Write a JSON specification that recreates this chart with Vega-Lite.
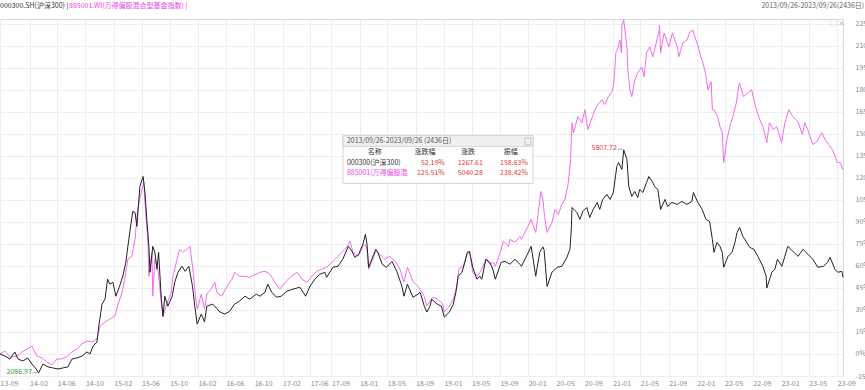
{
  "$schema": "https://vega.github.io/schema/vega-lite/v6.json",
  "width": 843,
  "height": 357,
  "autosize": {"type": "none"},
  "padding": {"left": 0, "top": 19, "right": 22, "bottom": 14},
  "background": "white",
  "config": {
    "font": "Noto Sans CJK SC",
    "view": {"stroke": "#d9d9d9"},
    "axisX": {
      "labelOverlap": false,
      "labelFlush": false,
      "labelAlign": "left",
      "labelFontSize": 7,
      "labelColor": "#8a8a8a",
      "labelPadding": 3,
      "tickCount": 100,
      "ticks": false,
      "domain": false,
      "grid": true,
      "gridColor": "#eeeeee",
      "title": null
    },
    "axisY": {
      "labelOverlap": false,
      "labelAlign": "left",
      "labelFontSize": 7,
      "labelColor": "#8a8a8a",
      "labelPadding": 12,
      "tickCount": 100,
      "ticks": false,
      "domain": false,
      "grid": true,
      "gridColor": "#eeeeee",
      "title": null
    },
    "text": {"fontSize": 7, "baseline": "middle"}
  },
  "datasets": {
    "hs300": [
      {"d": "2013-09-26", "v": 0},
      {"d": "2013-10-17", "v": -1.4},
      {"d": "2013-11-08", "v": -3.4},
      {"d": "2013-11-29", "v": 1.4},
      {"d": "2013-12-13", "v": -3.4},
      {"d": "2014-01-03", "v": -4.8},
      {"d": "2014-01-24", "v": -2.7},
      {"d": "2014-02-11", "v": -6.8},
      {"d": "2014-03-05", "v": -10.9},
      {"d": "2014-03-12", "v": -13.0},
      {"d": "2014-03-31", "v": -6.8},
      {"d": "2014-04-22", "v": -8.8},
      {"d": "2014-05-13", "v": -9.5},
      {"d": "2014-06-04", "v": -10.2},
      {"d": "2014-06-26", "v": -9.5},
      {"d": "2014-07-17", "v": -8.8},
      {"d": "2014-08-04", "v": -3.4},
      {"d": "2014-08-25", "v": -2.7},
      {"d": "2014-09-16", "v": -1.4},
      {"d": "2014-10-08", "v": 1.4},
      {"d": "2014-10-21", "v": 0},
      {"d": "2014-11-03", "v": 5.4},
      {"d": "2014-11-20", "v": 8.2},
      {"d": "2014-11-28", "v": 19.0},
      {"d": "2014-12-12", "v": 34.0},
      {"d": "2014-12-25", "v": 37.4},
      {"d": "2015-01-05", "v": 51.0},
      {"d": "2015-01-15", "v": 47.6},
      {"d": "2015-01-28", "v": 48.9},
      {"d": "2015-02-10", "v": 39.4},
      {"d": "2015-02-26", "v": 46.2},
      {"d": "2015-03-12", "v": 53.0},
      {"d": "2015-03-25", "v": 62.5},
      {"d": "2015-04-07", "v": 78.2},
      {"d": "2015-04-24", "v": 97.2},
      {"d": "2015-05-04", "v": 96.5},
      {"d": "2015-05-12", "v": 87.0},
      {"d": "2015-05-25", "v": 114.2},
      {"d": "2015-06-08", "v": 121.0},
      {"d": "2015-06-16", "v": 110.1},
      {"d": "2015-06-24", "v": 91.8},
      {"d": "2015-07-03", "v": 73.4},
      {"d": "2015-07-08", "v": 55.7},
      {"d": "2015-07-20", "v": 73.4},
      {"d": "2015-07-29", "v": 69.3},
      {"d": "2015-08-07", "v": 57.8},
      {"d": "2015-08-14", "v": 69.3},
      {"d": "2015-08-26", "v": 37.4},
      {"d": "2015-09-02", "v": 25.8},
      {"d": "2015-09-10", "v": 39.4},
      {"d": "2015-09-23", "v": 32.6},
      {"d": "2015-10-12", "v": 39.4},
      {"d": "2015-10-23", "v": 48.9},
      {"d": "2015-11-06", "v": 55.7},
      {"d": "2015-11-23", "v": 59.8},
      {"d": "2015-12-07", "v": 56.4},
      {"d": "2015-12-23", "v": 59.8},
      {"d": "2016-01-08", "v": 46.2},
      {"d": "2016-01-18", "v": 32.6},
      {"d": "2016-01-28", "v": 20.4},
      {"d": "2016-02-15", "v": 27.2},
      {"d": "2016-02-29", "v": 21.8},
      {"d": "2016-03-10", "v": 32.6},
      {"d": "2016-04-05", "v": 34.0},
      {"d": "2016-05-06", "v": 28.6},
      {"d": "2016-05-27", "v": 27.2},
      {"d": "2016-06-17", "v": 29.2},
      {"d": "2016-07-08", "v": 34.0},
      {"d": "2016-07-29", "v": 36.0},
      {"d": "2016-08-22", "v": 39.4},
      {"d": "2016-09-12", "v": 37.4},
      {"d": "2016-10-10", "v": 40.8},
      {"d": "2016-10-26", "v": 39.4},
      {"d": "2016-11-17", "v": 42.1},
      {"d": "2016-11-29", "v": 47.6},
      {"d": "2016-12-16", "v": 42.1},
      {"d": "2017-01-06", "v": 38.7},
      {"d": "2017-01-26", "v": 39.4},
      {"d": "2017-02-20", "v": 42.8},
      {"d": "2017-03-17", "v": 44.2},
      {"d": "2017-04-17", "v": 45.5},
      {"d": "2017-05-12", "v": 39.4},
      {"d": "2017-05-31", "v": 46.2},
      {"d": "2017-06-21", "v": 51.0},
      {"d": "2017-07-13", "v": 54.4},
      {"d": "2017-08-03", "v": 55.7},
      {"d": "2017-08-11", "v": 52.3},
      {"d": "2017-09-07", "v": 59.1},
      {"d": "2017-09-29", "v": 59.8},
      {"d": "2017-10-20", "v": 64.6},
      {"d": "2017-11-13", "v": 73.4},
      {"d": "2017-11-29", "v": 70.0},
      {"d": "2017-12-11", "v": 65.9},
      {"d": "2017-12-28", "v": 68.0},
      {"d": "2018-01-15", "v": 74.8},
      {"d": "2018-01-26", "v": 81.6},
      {"d": "2018-02-02", "v": 74.8},
      {"d": "2018-02-09", "v": 59.1},
      {"d": "2018-03-12", "v": 71.4},
      {"d": "2018-03-21", "v": 69.3},
      {"d": "2018-04-09", "v": 61.2},
      {"d": "2018-04-27", "v": 59.1},
      {"d": "2018-05-21", "v": 63.2},
      {"d": "2018-06-11", "v": 56.4},
      {"d": "2018-07-03", "v": 46.2},
      {"d": "2018-07-12", "v": 39.4},
      {"d": "2018-07-27", "v": 47.6},
      {"d": "2018-08-20", "v": 38.7},
      {"d": "2018-09-11", "v": 40.8},
      {"d": "2018-09-20", "v": 42.1},
      {"d": "2018-10-08", "v": 32.6},
      {"d": "2018-10-19", "v": 28.6},
      {"d": "2018-11-02", "v": 32.6},
      {"d": "2018-11-09", "v": 37.4},
      {"d": "2018-12-03", "v": 34.0},
      {"d": "2018-12-21", "v": 32.6},
      {"d": "2019-01-03", "v": 25.2},
      {"d": "2019-01-25", "v": 28.6},
      {"d": "2019-02-11", "v": 34.0},
      {"d": "2019-02-22", "v": 42.1},
      {"d": "2019-03-04", "v": 53.0},
      {"d": "2019-03-20", "v": 55.7},
      {"d": "2019-04-02", "v": 62.5},
      {"d": "2019-04-12", "v": 69.3},
      {"d": "2019-04-22", "v": 70.0},
      {"d": "2019-05-06", "v": 59.1},
      {"d": "2019-05-24", "v": 51.0},
      {"d": "2019-06-06", "v": 53.0},
      {"d": "2019-06-14", "v": 51.0},
      {"d": "2019-07-02", "v": 64.6},
      {"d": "2019-07-19", "v": 62.5},
      {"d": "2019-08-01", "v": 57.8},
      {"d": "2019-08-12", "v": 51.0},
      {"d": "2019-09-06", "v": 62.5},
      {"d": "2019-09-23", "v": 63.2},
      {"d": "2019-10-14", "v": 61.2},
      {"d": "2019-11-05", "v": 64.6},
      {"d": "2019-11-26", "v": 61.2},
      {"d": "2019-12-03", "v": 59.8},
      {"d": "2019-12-31", "v": 68.7},
      {"d": "2020-01-14", "v": 73.4},
      {"d": "2020-02-03", "v": 53.0},
      {"d": "2020-02-20", "v": 69.3},
      {"d": "2020-03-05", "v": 73.0},
      {"d": "2020-03-10", "v": 71.0},
      {"d": "2020-03-16", "v": 59.8},
      {"d": "2020-03-23", "v": 46.0},
      {"d": "2020-04-13", "v": 55.7},
      {"d": "2020-05-06", "v": 59.1},
      {"d": "2020-05-26", "v": 59.8},
      {"d": "2020-06-17", "v": 65.9},
      {"d": "2020-06-30", "v": 71.4},
      {"d": "2020-07-06", "v": 85.0},
      {"d": "2020-07-09", "v": 99.9},
      {"d": "2020-07-30", "v": 96.5},
      {"d": "2020-08-12", "v": 91.8},
      {"d": "2020-08-25", "v": 97.2},
      {"d": "2020-09-11", "v": 99.9},
      {"d": "2020-09-24", "v": 93.1},
      {"d": "2020-10-09", "v": 98.6},
      {"d": "2020-10-26", "v": 103.3},
      {"d": "2020-11-06", "v": 98.6},
      {"d": "2020-11-19", "v": 105.4},
      {"d": "2020-12-07", "v": 108.8},
      {"d": "2020-12-21", "v": 105.4},
      {"d": "2021-01-04", "v": 110.1},
      {"d": "2021-01-19", "v": 127.8},
      {"d": "2021-01-27", "v": 130.5},
      {"d": "2021-02-10", "v": 125.8},
      {"d": "2021-02-18", "v": 139.1},
      {"d": "2021-03-04", "v": 132.6},
      {"d": "2021-03-12", "v": 114.2},
      {"d": "2021-03-25", "v": 107.4},
      {"d": "2021-04-07", "v": 110.8},
      {"d": "2021-04-20", "v": 106.7},
      {"d": "2021-04-28", "v": 112.2},
      {"d": "2021-05-12", "v": 110.1},
      {"d": "2021-05-28", "v": 116.9},
      {"d": "2021-06-07", "v": 121.0},
      {"d": "2021-06-24", "v": 116.9},
      {"d": "2021-07-02", "v": 114.2},
      {"d": "2021-07-16", "v": 112.2},
      {"d": "2021-07-28", "v": 98.6},
      {"d": "2021-08-16", "v": 105.4},
      {"d": "2021-08-27", "v": 100.6},
      {"d": "2021-09-15", "v": 103.3},
      {"d": "2021-10-08", "v": 102.0},
      {"d": "2021-10-28", "v": 104.0},
      {"d": "2021-11-19", "v": 102.0},
      {"d": "2021-12-10", "v": 104.0},
      {"d": "2021-12-17", "v": 110.1},
      {"d": "2022-01-05", "v": 103.3},
      {"d": "2022-01-24", "v": 98.6},
      {"d": "2022-02-09", "v": 91.8},
      {"d": "2022-02-25", "v": 90.4},
      {"d": "2022-03-09", "v": 78.2},
      {"d": "2022-03-16", "v": 69.3},
      {"d": "2022-03-29", "v": 76.1},
      {"d": "2022-04-11", "v": 73.4},
      {"d": "2022-04-21", "v": 69.3},
      {"d": "2022-04-27", "v": 59.1},
      {"d": "2022-05-16", "v": 66.6},
      {"d": "2022-06-02", "v": 69.3},
      {"d": "2022-06-15", "v": 76.1},
      {"d": "2022-06-24", "v": 82.9},
      {"d": "2022-07-05", "v": 86.3},
      {"d": "2022-07-19", "v": 80.2},
      {"d": "2022-08-05", "v": 76.1},
      {"d": "2022-08-18", "v": 72.7},
      {"d": "2022-09-05", "v": 71.4},
      {"d": "2022-09-22", "v": 66.6},
      {"d": "2022-10-14", "v": 59.8},
      {"d": "2022-10-28", "v": 53.0},
      {"d": "2022-10-31", "v": 45.0},
      {"d": "2022-11-22", "v": 55.7},
      {"d": "2022-12-05", "v": 57.8},
      {"d": "2022-12-16", "v": 64.6},
      {"d": "2023-01-04", "v": 59.8},
      {"d": "2023-01-17", "v": 66.6},
      {"d": "2023-01-30", "v": 73.4},
      {"d": "2023-02-21", "v": 70.0},
      {"d": "2023-03-15", "v": 66.6},
      {"d": "2023-04-06", "v": 71.4},
      {"d": "2023-04-27", "v": 68.0},
      {"d": "2023-05-18", "v": 64.6},
      {"d": "2023-06-09", "v": 59.1},
      {"d": "2023-07-03", "v": 59.8},
      {"d": "2023-07-21", "v": 62.5},
      {"d": "2023-08-01", "v": 65.9},
      {"d": "2023-08-22", "v": 57.8},
      {"d": "2023-09-04", "v": 55.7},
      {"d": "2023-09-21", "v": 56.4},
      {"d": "2023-09-26", "v": 52.19}
    ],
    "fund": [
      {"d": "2013-09-26", "v": 0},
      {"d": "2013-10-17", "v": 2.0},
      {"d": "2013-11-08", "v": -2.0},
      {"d": "2013-12-09", "v": -1.4},
      {"d": "2013-12-30", "v": 1.4},
      {"d": "2014-01-21", "v": 3.4},
      {"d": "2014-02-11", "v": 5.4},
      {"d": "2014-03-05", "v": -1.4},
      {"d": "2014-03-27", "v": -2.7},
      {"d": "2014-04-17", "v": -5.4},
      {"d": "2014-05-09", "v": -7.5},
      {"d": "2014-05-30", "v": -3.4},
      {"d": "2014-06-20", "v": -3.4},
      {"d": "2014-07-11", "v": -2.0},
      {"d": "2014-08-04", "v": 1.4},
      {"d": "2014-08-25", "v": 3.4},
      {"d": "2014-09-16", "v": 6.8},
      {"d": "2014-10-08", "v": 8.8},
      {"d": "2014-10-29", "v": 8.2},
      {"d": "2014-11-20", "v": 10.2},
      {"d": "2014-12-03", "v": 19.0},
      {"d": "2014-12-25", "v": 21.8},
      {"d": "2015-01-15", "v": 23.8},
      {"d": "2015-02-06", "v": 25.8},
      {"d": "2015-02-17", "v": 32.6},
      {"d": "2015-03-09", "v": 42.1},
      {"d": "2015-03-20", "v": 51.0},
      {"d": "2015-04-03", "v": 64.6},
      {"d": "2015-04-20", "v": 66.6},
      {"d": "2015-05-04", "v": 78.2},
      {"d": "2015-05-15", "v": 98.6},
      {"d": "2015-06-03", "v": 112.2},
      {"d": "2015-06-11", "v": 116.9},
      {"d": "2015-06-19", "v": 96.5},
      {"d": "2015-06-29", "v": 76.1},
      {"d": "2015-07-03", "v": 53.0},
      {"d": "2015-07-16", "v": 69.3},
      {"d": "2015-07-20", "v": 39.4},
      {"d": "2015-07-29", "v": 64.6},
      {"d": "2015-08-11", "v": 57.8},
      {"d": "2015-08-26", "v": 35.3},
      {"d": "2015-09-02", "v": 25.2},
      {"d": "2015-09-15", "v": 32.6},
      {"d": "2015-10-08", "v": 42.1},
      {"d": "2015-10-15", "v": 53.0},
      {"d": "2015-11-02", "v": 64.6},
      {"d": "2015-11-13", "v": 71.4},
      {"d": "2015-11-26", "v": 69.3},
      {"d": "2015-12-15", "v": 71.4},
      {"d": "2015-12-28", "v": 73.4},
      {"d": "2016-01-11", "v": 55.7},
      {"d": "2016-01-22", "v": 37.4},
      {"d": "2016-01-29", "v": 30.6},
      {"d": "2016-02-15", "v": 40.8},
      {"d": "2016-02-29", "v": 30.6},
      {"d": "2016-03-10", "v": 40.8},
      {"d": "2016-03-28", "v": 44.2},
      {"d": "2016-04-14", "v": 48.9},
      {"d": "2016-04-22", "v": 42.1},
      {"d": "2016-05-13", "v": 39.4},
      {"d": "2016-06-06", "v": 46.2},
      {"d": "2016-06-27", "v": 51.0},
      {"d": "2016-07-08", "v": 55.7},
      {"d": "2016-07-29", "v": 53.0},
      {"d": "2016-08-22", "v": 53.0},
      {"d": "2016-09-12", "v": 52.3},
      {"d": "2016-10-10", "v": 54.4},
      {"d": "2016-10-26", "v": 55.7},
      {"d": "2016-11-17", "v": 56.4},
      {"d": "2016-12-08", "v": 54.4},
      {"d": "2016-12-30", "v": 48.9},
      {"d": "2017-01-20", "v": 44.2},
      {"d": "2017-02-13", "v": 48.9},
      {"d": "2017-03-06", "v": 52.3},
      {"d": "2017-04-05", "v": 55.7},
      {"d": "2017-04-26", "v": 51.0},
      {"d": "2017-05-18", "v": 48.9},
      {"d": "2017-06-08", "v": 53.0},
      {"d": "2017-06-30", "v": 56.4},
      {"d": "2017-07-21", "v": 57.8},
      {"d": "2017-08-11", "v": 59.1},
      {"d": "2017-09-04", "v": 62.5},
      {"d": "2017-09-25", "v": 65.9},
      {"d": "2017-10-16", "v": 69.3},
      {"d": "2017-11-07", "v": 72.7},
      {"d": "2017-11-20", "v": 76.8},
      {"d": "2017-12-04", "v": 69.3},
      {"d": "2017-12-25", "v": 66.6},
      {"d": "2018-01-15", "v": 73.4},
      {"d": "2018-01-26", "v": 74.8},
      {"d": "2018-02-02", "v": 71.4},
      {"d": "2018-02-09", "v": 57.8},
      {"d": "2018-03-12", "v": 70.0},
      {"d": "2018-03-29", "v": 68.0},
      {"d": "2018-04-20", "v": 64.6},
      {"d": "2018-05-11", "v": 66.6},
      {"d": "2018-06-04", "v": 63.2},
      {"d": "2018-06-25", "v": 57.8},
      {"d": "2018-07-12", "v": 48.9},
      {"d": "2018-07-27", "v": 59.1},
      {"d": "2018-08-20", "v": 49.6},
      {"d": "2018-09-11", "v": 46.2},
      {"d": "2018-10-08", "v": 39.4},
      {"d": "2018-10-19", "v": 32.6},
      {"d": "2018-11-02", "v": 36.0},
      {"d": "2018-11-13", "v": 38.7},
      {"d": "2018-12-06", "v": 37.4},
      {"d": "2018-12-27", "v": 34.0},
      {"d": "2019-01-03", "v": 28.6},
      {"d": "2019-01-25", "v": 32.6},
      {"d": "2019-02-11", "v": 37.4},
      {"d": "2019-02-26", "v": 46.2},
      {"d": "2019-03-07", "v": 57.8},
      {"d": "2019-03-25", "v": 59.8},
      {"d": "2019-04-08", "v": 66.6},
      {"d": "2019-04-22", "v": 70.0},
      {"d": "2019-05-06", "v": 55.7},
      {"d": "2019-05-24", "v": 53.0},
      {"d": "2019-06-06", "v": 55.7},
      {"d": "2019-06-14", "v": 57.8},
      {"d": "2019-07-02", "v": 64.6},
      {"d": "2019-07-19", "v": 61.2},
      {"d": "2019-08-01", "v": 62.5},
      {"d": "2019-08-12", "v": 59.8},
      {"d": "2019-09-02", "v": 69.3},
      {"d": "2019-09-16", "v": 76.8},
      {"d": "2019-10-08", "v": 73.4},
      {"d": "2019-10-14", "v": 78.2},
      {"d": "2019-11-05", "v": 76.1},
      {"d": "2019-11-26", "v": 80.2},
      {"d": "2019-12-03", "v": 78.2},
      {"d": "2019-12-31", "v": 87.0},
      {"d": "2020-01-14", "v": 91.8},
      {"d": "2020-02-03", "v": 82.9},
      {"d": "2020-02-14", "v": 96.5},
      {"d": "2020-02-25", "v": 110.8},
      {"d": "2020-03-05", "v": 105.4},
      {"d": "2020-03-12", "v": 93.8},
      {"d": "2020-03-23", "v": 82.9},
      {"d": "2020-04-13", "v": 89.7},
      {"d": "2020-04-27", "v": 98.6},
      {"d": "2020-05-11", "v": 95.2},
      {"d": "2020-05-26", "v": 102.0},
      {"d": "2020-06-08", "v": 105.4},
      {"d": "2020-06-22", "v": 115.6},
      {"d": "2020-07-03", "v": 132.6},
      {"d": "2020-07-09", "v": 157.7},
      {"d": "2020-07-16", "v": 150.9},
      {"d": "2020-08-03", "v": 161.8},
      {"d": "2020-08-21", "v": 157.7},
      {"d": "2020-09-03", "v": 166.6},
      {"d": "2020-09-15", "v": 153.0},
      {"d": "2020-10-09", "v": 163.2},
      {"d": "2020-10-16", "v": 166.6},
      {"d": "2020-10-29", "v": 170.0},
      {"d": "2020-11-16", "v": 173.3},
      {"d": "2020-11-27", "v": 170.0},
      {"d": "2020-12-11", "v": 174.7},
      {"d": "2020-12-29", "v": 178.8},
      {"d": "2021-01-06", "v": 184.9},
      {"d": "2021-01-15", "v": 205.3},
      {"d": "2021-01-22", "v": 207.3},
      {"d": "2021-02-01", "v": 214.1},
      {"d": "2021-02-08", "v": 205.3},
      {"d": "2021-02-10", "v": 223.8},
      {"d": "2021-02-18", "v": 227.7},
      {"d": "2021-03-04", "v": 209.4},
      {"d": "2021-03-08", "v": 193.7},
      {"d": "2021-03-17", "v": 180.1},
      {"d": "2021-03-25", "v": 175.4},
      {"d": "2021-04-07", "v": 186.9},
      {"d": "2021-04-20", "v": 191.7},
      {"d": "2021-05-07", "v": 195.8},
      {"d": "2021-05-17", "v": 189.0},
      {"d": "2021-05-28", "v": 205.3},
      {"d": "2021-06-11", "v": 209.4},
      {"d": "2021-06-24", "v": 202.6},
      {"d": "2021-07-12", "v": 214.1},
      {"d": "2021-07-22", "v": 220.9},
      {"d": "2021-07-23", "v": 224.3},
      {"d": "2021-07-28", "v": 205.3},
      {"d": "2021-08-12", "v": 218.9},
      {"d": "2021-09-02", "v": 209.4},
      {"d": "2021-09-17", "v": 218.9},
      {"d": "2021-10-08", "v": 209.4},
      {"d": "2021-10-15", "v": 202.6},
      {"d": "2021-11-01", "v": 212.1},
      {"d": "2021-11-19", "v": 214.1},
      {"d": "2021-12-02", "v": 219.6},
      {"d": "2021-12-15", "v": 220.9},
      {"d": "2021-12-23", "v": 216.2},
      {"d": "2022-01-05", "v": 210.7},
      {"d": "2022-01-18", "v": 202.6},
      {"d": "2022-01-27", "v": 198.5},
      {"d": "2022-02-07", "v": 191.7},
      {"d": "2022-02-18", "v": 180.1},
      {"d": "2022-03-04", "v": 185.6},
      {"d": "2022-03-09", "v": 166.6},
      {"d": "2022-03-16", "v": 166.6},
      {"d": "2022-04-01", "v": 161.8},
      {"d": "2022-04-11", "v": 155.0},
      {"d": "2022-04-21", "v": 150.9},
      {"d": "2022-04-27", "v": 130.5},
      {"d": "2022-05-11", "v": 146.2},
      {"d": "2022-05-24", "v": 155.0},
      {"d": "2022-06-06", "v": 161.8},
      {"d": "2022-06-21", "v": 171.3},
      {"d": "2022-07-01", "v": 182.2},
      {"d": "2022-07-05", "v": 184.9},
      {"d": "2022-07-22", "v": 175.4},
      {"d": "2022-08-10", "v": 178.1},
      {"d": "2022-08-26", "v": 180.1},
      {"d": "2022-09-05", "v": 173.3},
      {"d": "2022-09-16", "v": 166.6},
      {"d": "2022-09-30", "v": 159.8},
      {"d": "2022-10-14", "v": 155.0},
      {"d": "2022-10-31", "v": 144.1},
      {"d": "2022-11-11", "v": 157.7},
      {"d": "2022-11-28", "v": 153.0},
      {"d": "2022-12-13", "v": 155.0},
      {"d": "2023-01-03", "v": 144.1},
      {"d": "2023-01-17", "v": 157.7},
      {"d": "2023-02-03", "v": 166.6},
      {"d": "2023-02-21", "v": 161.8},
      {"d": "2023-03-15", "v": 158.4},
      {"d": "2023-04-03", "v": 149.6},
      {"d": "2023-04-14", "v": 157.7},
      {"d": "2023-04-26", "v": 153.0},
      {"d": "2023-05-18", "v": 142.8},
      {"d": "2023-06-05", "v": 144.8},
      {"d": "2023-06-26", "v": 150.9},
      {"d": "2023-07-10", "v": 146.2},
      {"d": "2023-07-26", "v": 142.8},
      {"d": "2023-08-11", "v": 139.4},
      {"d": "2023-08-25", "v": 133.9},
      {"d": "2023-09-01", "v": 130.5},
      {"d": "2023-09-15", "v": 130.5},
      {"d": "2023-09-26", "v": 125.51}
    ]
  },
  "layer": [
    {
      "data": {"name": "fund"},
      "mark": {"type": "line", "strokeWidth": 1},
      "encoding": {
        "x": {
          "field": "d",
          "type": "temporal",
          "scale": {
            "type": "utc",
            "domain": [
              {"year": 2013, "month": 9, "date": 26, "utc": true},
              {"year": 2023, "month": 9, "date": 26, "utc": true}
            ]
          },
          "axis": {
            "format": "%y-%m",
            "tickCount": 100,
            "values": [
              {"year": 2013, "month": 9, "date": 26, "utc": true},
              {"year": 2014, "month": 2, "date": 1, "utc": true},
              {"year": 2014, "month": 6, "date": 1, "utc": true},
              {"year": 2014, "month": 10, "date": 1, "utc": true},
              {"year": 2015, "month": 2, "date": 1, "utc": true},
              {"year": 2015, "month": 6, "date": 1, "utc": true},
              {"year": 2015, "month": 10, "date": 1, "utc": true},
              {"year": 2016, "month": 2, "date": 1, "utc": true},
              {"year": 2016, "month": 6, "date": 1, "utc": true},
              {"year": 2016, "month": 10, "date": 1, "utc": true},
              {"year": 2017, "month": 2, "date": 1, "utc": true},
              {"year": 2017, "month": 6, "date": 1, "utc": true},
              {"year": 2017, "month": 9, "date": 1, "utc": true},
              {"year": 2018, "month": 1, "date": 1, "utc": true},
              {"year": 2018, "month": 5, "date": 1, "utc": true},
              {"year": 2018, "month": 9, "date": 1, "utc": true},
              {"year": 2019, "month": 1, "date": 1, "utc": true},
              {"year": 2019, "month": 5, "date": 1, "utc": true},
              {"year": 2019, "month": 9, "date": 1, "utc": true},
              {"year": 2020, "month": 1, "date": 1, "utc": true},
              {"year": 2020, "month": 5, "date": 1, "utc": true},
              {"year": 2020, "month": 9, "date": 1, "utc": true},
              {"year": 2021, "month": 1, "date": 1, "utc": true},
              {"year": 2021, "month": 5, "date": 1, "utc": true},
              {"year": 2021, "month": 9, "date": 1, "utc": true},
              {"year": 2022, "month": 1, "date": 1, "utc": true},
              {"year": 2022, "month": 5, "date": 1, "utc": true},
              {"year": 2022, "month": 9, "date": 1, "utc": true},
              {"year": 2023, "month": 1, "date": 1, "utc": true},
              {"year": 2023, "month": 5, "date": 1, "utc": true},
              {"year": 2023, "month": 9, "date": 1, "utc": true}
            ]
          }
        },
        "y": {
          "field": "v",
          "type": "quantitative",
          "scale": {"domain": [-15, 228.4], "nice": false, "zero": false},
          "axis": {
            "orient": "right",
            "tickCount": 100,
            "values": [-15, 0, 15, 30, 45, 60, 75, 90, 105, 120, 135, 150, 165, 180, 195, 210, 225],
            "labelExpr": "datum.value + '%'"
          }
        },
        "color": {
          "datum": "885001.WI(万得偏股混合型基金指数)",
          "scale": {
            "domain": ["000300.SH(沪深300)", "885001.WI(万得偏股混合型基金指数)"],
            "range": ["#222222", "#f26cf2"]
          },
          "legend": null
        }
      }
    },
    {
      "data": {"name": "hs300"},
      "mark": {"type": "line", "strokeWidth": 1},
      "encoding": {
        "x": {"field": "d", "type": "temporal"},
        "y": {"field": "v", "type": "quantitative"},
        "color": {"datum": "000300.SH(沪深300)"}
      }
    },
    {
      "data": {"values": [{"t": "000300.SH(沪深300) |"}]},
      "mark": {"type": "text", "align": "left", "color": "#333333", "clip": false},
      "encoding": {
        "x": {"datum": {"year": 2013, "month": 9, "date": 26, "utc": true}, "type": "temporal"},
        "y": {"datum": 237.5, "type": "quantitative"},
        "text": {"field": "t"}
      }
    },
    {
      "data": {"values": [{"t": "885001.WI(万得偏股混合型基金指数) |"}]},
      "mark": {"type": "text", "align": "left", "color": "#e848e8", "clip": false},
      "encoding": {
        "x": {"datum": {"year": 2014, "month": 7, "date": 22, "utc": true}, "type": "temporal"},
        "y": {"datum": 237.5, "type": "quantitative"},
        "text": {"field": "t"}
      }
    },
    {
      "data": {"values": [{"t": "2013/09/26-2023/09/26(2436日)"}]},
      "mark": {"type": "text", "align": "right", "color": "#666666", "clip": false},
      "encoding": {
        "x": {"datum": {"year": 2023, "month": 12, "date": 27, "utc": true}, "type": "temporal"},
        "y": {"datum": 237.5, "type": "quantitative"},
        "text": {"field": "t"}
      }
    },
    {
      "data": {"values": [{"t": "□✕"}]},
      "mark": {"type": "text", "align": "right", "color": "#c4c4c4", "fontSize": 8, "clip": false},
      "encoding": {
        "x": {"datum": {"year": 2023, "month": 10, "date": 4, "utc": true}, "type": "temporal"},
        "y": {"datum": 225.0, "type": "quantitative"},
        "text": {"field": "t"}
      }
    },
    {
      "data": {"values": [{"t": "box"}]},
      "mark": {"type": "rect", "fill": "#ffffff", "stroke": "#d4d4d4", "strokeWidth": 1},
      "encoding": {
        "x": {"datum": {"year": 2017, "month": 10, "date": 21, "utc": true}, "type": "temporal"},
        "x2": {"datum": {"year": 2020, "month": 1, "date": 22, "utc": true}},
        "y": {"datum": 148.9, "type": "quantitative"},
        "y2": {"datum": 116.2}
      }
    },
    {
      "data": {"values": [{"t": "band"}]},
      "mark": {"type": "rect", "fill": "#f1f1f1", "stroke": "#d4d4d4", "strokeWidth": 1},
      "encoding": {
        "x": {"datum": {"year": 2017, "month": 10, "date": 21, "utc": true}, "type": "temporal"},
        "x2": {"datum": {"year": 2020, "month": 1, "date": 22, "utc": true}},
        "y": {"datum": 148.9, "type": "quantitative"},
        "y2": {"datum": 141.6}
      }
    },
    {
      "data": {"values": [{"t": "close"}]},
      "mark": {"type": "rect", "fill": "#f1f1f1", "stroke": "#bbbbbb", "strokeWidth": 0.8},
      "encoding": {
        "x": {"datum": {"year": 2019, "month": 12, "date": 18, "utc": true}, "type": "temporal"},
        "x2": {"datum": {"year": 2020, "month": 1, "date": 12, "utc": true}},
        "y": {"datum": 147.2, "type": "quantitative"},
        "y2": {"datum": 142.6}
      }
    },
    {
      "data": {"values": [{"t": "2013/09/26-2023/09/26 (2436日)"}]},
      "mark": {"type": "text", "align": "left", "color": "#555555"},
      "encoding": {
        "x": {"datum": {"year": 2017, "month": 11, "date": 7, "utc": true}, "type": "temporal"},
        "y": {"datum": 145.0, "type": "quantitative"},
        "text": {"field": "t"}
      }
    },
    {
      "data": {"values": [{"t": "名称"}]},
      "mark": {"type": "text", "align": "center", "color": "#333333"},
      "encoding": {
        "x": {"datum": {"year": 2018, "month": 3, "date": 8, "utc": true}, "type": "temporal"},
        "y": {"datum": 138.0, "type": "quantitative"},
        "text": {"field": "t"}
      }
    },
    {
      "data": {"values": [{"t": "涨跌幅"}]},
      "mark": {"type": "text", "align": "center", "color": "#333333"},
      "encoding": {
        "x": {"datum": {"year": 2018, "month": 10, "date": 11, "utc": true}, "type": "temporal"},
        "y": {"datum": 138.0, "type": "quantitative"},
        "text": {"field": "t"}
      }
    },
    {
      "data": {"values": [{"t": "涨跌"}]},
      "mark": {"type": "text", "align": "center", "color": "#333333"},
      "encoding": {
        "x": {"datum": {"year": 2019, "month": 4, "date": 15, "utc": true}, "type": "temporal"},
        "y": {"datum": 138.0, "type": "quantitative"},
        "text": {"field": "t"}
      }
    },
    {
      "data": {"values": [{"t": "振幅"}]},
      "mark": {"type": "text", "align": "center", "color": "#333333"},
      "encoding": {
        "x": {"datum": {"year": 2019, "month": 10, "date": 18, "utc": true}, "type": "temporal"},
        "y": {"datum": 138.0, "type": "quantitative"},
        "text": {"field": "t"}
      }
    },
    {
      "data": {"values": [{"t": "000300(沪深300)"}]},
      "mark": {"type": "text", "align": "left", "color": "#333333"},
      "encoding": {
        "x": {"datum": {"year": 2017, "month": 11, "date": 7, "utc": true}, "type": "temporal"},
        "y": {"datum": 130.5, "type": "quantitative"},
        "text": {"field": "t"}
      }
    },
    {
      "data": {"values": [{"t": "52.19%"}]},
      "mark": {"type": "text", "align": "right", "color": "#e53935"},
      "encoding": {
        "x": {"datum": {"year": 2019, "month": 1, "date": 5, "utc": true}, "type": "temporal"},
        "y": {"datum": 130.5, "type": "quantitative"},
        "text": {"field": "t"}
      }
    },
    {
      "data": {"values": [{"t": "1267.61"}]},
      "mark": {"type": "text", "align": "right", "color": "#e53935"},
      "encoding": {
        "x": {"datum": {"year": 2019, "month": 6, "date": 19, "utc": true}, "type": "temporal"},
        "y": {"datum": 130.5, "type": "quantitative"},
        "text": {"field": "t"}
      }
    },
    {
      "data": {"values": [{"t": "158.63%"}]},
      "mark": {"type": "text", "align": "right", "color": "#e53935"},
      "encoding": {
        "x": {"datum": {"year": 2019, "month": 12, "date": 31, "utc": true}, "type": "temporal"},
        "y": {"datum": 130.5, "type": "quantitative"},
        "text": {"field": "t"}
      }
    },
    {
      "data": {"values": [{"t": "885001(万得偏股混"}]},
      "mark": {"type": "text", "align": "left", "color": "#e848e8"},
      "encoding": {
        "x": {"datum": {"year": 2017, "month": 11, "date": 7, "utc": true}, "type": "temporal"},
        "y": {"datum": 123.7, "type": "quantitative"},
        "text": {"field": "t"}
      }
    },
    {
      "data": {"values": [{"t": "125.51%"}]},
      "mark": {"type": "text", "align": "right", "color": "#e53935"},
      "encoding": {
        "x": {"datum": {"year": 2019, "month": 1, "date": 5, "utc": true}, "type": "temporal"},
        "y": {"datum": 123.7, "type": "quantitative"},
        "text": {"field": "t"}
      }
    },
    {
      "data": {"values": [{"t": "5040.28"}]},
      "mark": {"type": "text", "align": "right", "color": "#e53935"},
      "encoding": {
        "x": {"datum": {"year": 2019, "month": 6, "date": 19, "utc": true}, "type": "temporal"},
        "y": {"datum": 123.7, "type": "quantitative"},
        "text": {"field": "t"}
      }
    },
    {
      "data": {"values": [{"t": "238.42%"}]},
      "mark": {"type": "text", "align": "right", "color": "#e53935"},
      "encoding": {
        "x": {"datum": {"year": 2019, "month": 12, "date": 31, "utc": true}, "type": "temporal"},
        "y": {"datum": 123.7, "type": "quantitative"},
        "text": {"field": "t"}
      }
    },
    {
      "data": {"values": [{"t": "max"}]},
      "mark": {"type": "rule", "color": "#8fb8d8", "strokeWidth": 1},
      "encoding": {
        "x": {"datum": {"year": 2021, "month": 1, "date": 21, "utc": true}, "type": "temporal"},
        "x2": {"datum": {"year": 2021, "month": 2, "date": 17, "utc": true}},
        "y": {"datum": 139.6, "type": "quantitative"}
      }
    },
    {
      "data": {"values": [{"t": "5807.72"}]},
      "mark": {"type": "text", "align": "right", "color": "#e53935"},
      "encoding": {
        "x": {"datum": {"year": 2021, "month": 1, "date": 19, "utc": true}, "type": "temporal"},
        "y": {"datum": 140.5, "type": "quantitative"},
        "text": {"field": "t"}
      }
    },
    {
      "data": {"values": [{"t": "min"}]},
      "mark": {"type": "rule", "color": "#8fb8d8", "strokeWidth": 1},
      "encoding": {
        "x": {"datum": {"year": 2014, "month": 2, "date": 14, "utc": true}, "type": "temporal"},
        "x2": {"datum": {"year": 2014, "month": 3, "date": 11, "utc": true}},
        "y": {"datum": -12.8, "type": "quantitative"}
      }
    },
    {
      "data": {"values": [{"t": "2086.97"}]},
      "mark": {"type": "text", "align": "right", "color": "#2e9e3e"},
      "encoding": {
        "x": {"datum": {"year": 2014, "month": 2, "date": 11, "utc": true}, "type": "temporal"},
        "y": {"datum": -12.3, "type": "quantitative"},
        "text": {"field": "t"}
      }
    }
  ]
}
